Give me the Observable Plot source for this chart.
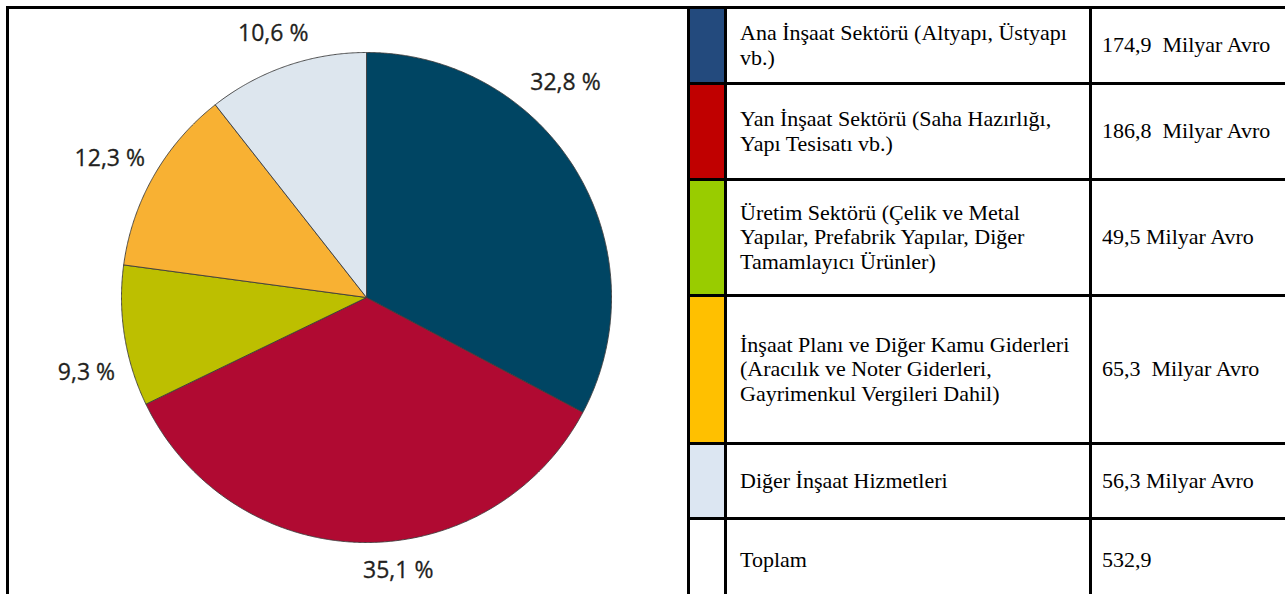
<!DOCTYPE html>
<html><head><meta charset="utf-8">
<script src="https://cdn.jsdelivr.net/npm/d3@7"></script>
<script src="https://cdn.jsdelivr.net/npm/@observablehq/plot@0.6"></script>
<style>
html,body{margin:0;padding:0;background:#fff;overflow:hidden;}
#wrap{position:relative;width:1285px;height:594px;overflow:hidden;background:#fff;}
.ln{position:absolute;background:#000;}
.sw{position:absolute;}
.cell{position:absolute;display:flex;align-items:center;font-family:"Liberation Serif","Times New Roman",serif;font-size:22px;line-height:1.12;color:#000;}
.val{white-space:pre;}
#pie{position:absolute;left:9px;top:9px;}
</style></head><body><div id="wrap"><div id="pie"></div></div>
<script>
// ---- data ----
const categories = [
  "Ana İnşaat Sektörü (Altyapı, Üstyapı vb.)",
  "Yan İnşaat Sektörü (Saha Hazırlığı, Yapı Tesisatı vb.)",
  "Üretim Sektörü (Çelik ve Metal Yapılar, Prefabrik Yapılar, Diğer Tamamlayıcı Ürünler)",
  "İnşaat Planı ve Diğer Kamu Giderleri (Aracılık ve Noter Giderleri, Gayrimenkul Vergileri Dahil)",
  "Diğer İnşaat Hizmetleri"
];
const pieShares = [32.8, 35.1, 9.3, 12.3, 10.6];
const amounts = [174.9, 186.8, 49.5, 65.3, 56.3];
const amountLabels = ["174,9  Milyar Avro", "186,8  Milyar Avro", "49,5 Milyar Avro", "65,3  Milyar Avro", "56,3 Milyar Avro"];
const totalName = "Toplam";
const totalLabel = "532,9";

// ---- styles / layout ----
const pieColors = ["#004563", "#b00a32", "#bdbf00", "#f8b133", "#dde6ee"];
const tableColors = ["#234a7d", "#c00000", "#99cc00", "#ffc000", "#dce6f2"];
const W = 678, H = 585, cx = 357, cy = 288, R = 245;
const labelRadius = [293, 275, 290, 292, 280];
const labelNudgeDeg = [-16.2, -7.7, -6.0, -1.3, -0.4];

// ---- pie geometry via d3.pie ----
const arcs = d3.pie().sort(null).value(d => d)(pieShares);
const pts = [];
arcs.forEach((a, i) => {
  const cat = categories[i];
  pts.push({cat, x: cx, y: cy});
  const n = Math.max(4, Math.ceil((a.endAngle - a.startAngle) / 0.005));
  for (let k = 0; k <= n; k++) {
    const t = a.startAngle + (a.endAngle - a.startAngle) * k / n;
    pts.push({cat, x: cx + R * Math.sin(t), y: cy - R * Math.cos(t)});
  }
  pts.push({cat, x: cx, y: cy});
});
const labels = arcs.map((a, i) => {
  const t = (a.startAngle + a.endAngle) / 2 + labelNudgeDeg[i] * Math.PI / 180;
  return {
    x: cx + labelRadius[i] * Math.sin(t),
    y: cy - labelRadius[i] * Math.cos(t),
    text: pieShares[i].toFixed(1).replace(".", ",") + " %"
  };
});

const chart = Plot.plot({
  width: W, height: H, margin: 0,
  style: {background: "transparent"},
  x: {domain: [0, W], axis: null},
  y: {domain: [0, H], reverse: true, axis: null},
  color: {domain: categories, range: pieColors},
  marks: [
    Plot.line(pts, {x: "x", y: "y", z: "cat", fill: "cat", stroke: "#3c3c3c", strokeWidth: 0.9, curve: "linear"}),
    Plot.text(labels, {x: "x", y: "y", text: "text", fontSize: 23, fill: "#231f20", stroke: "#231f20", strokeWidth: 0.3, fontFamily: "Open Sans, Noto Sans, sans-serif"})
  ]
});
document.getElementById("pie").appendChild(chart);

// ---- table (legend) ----
const wrap = document.getElementById("wrap");
function el(cls, css, txt) {
  const d = document.createElement("div");
  d.className = cls;
  Object.assign(d.style, css);
  if (txt !== undefined) d.textContent = txt;
  wrap.appendChild(d);
  return d;
}
const lineW = 3;
const rowLines = [6, 82, 178, 294, 442, 517];
const bottom = 600;
el("ln", {left: "6px", top: "6px", width: "1279px", height: lineW + "px"});
el("ln", {left: "6px", top: "6px", width: lineW + "px", height: "600px"});
[687, 724, 1089].forEach(x => el("ln", {left: x + "px", top: "6px", width: lineW + "px", height: "600px"}));
rowLines.slice(1).forEach(y => el("ln", {left: "687px", top: y + "px", width: "598px", height: lineW + "px"}));

const rowNames = categories.concat([totalName]);
const rowVals = amountLabels.concat([totalLabel]);
rowNames.forEach((name, i) => {
  const top = rowLines[i] + lineW;
  const bot = i + 1 < rowLines.length ? rowLines[i + 1] : bottom;
  const h = bot - top;
  if (i < tableColors.length) el("sw", {left: "690px", top: top + "px", width: "34px", height: h + "px", background: tableColors[i]});
  el("cell", {left: "740px", top: top + "px", width: "338px", height: h + "px"}, name);
  el("cell val", {left: "1102px", top: top + "px", width: "183px", height: h + "px"}, rowVals[i]);
});
</script>
</body></html>
